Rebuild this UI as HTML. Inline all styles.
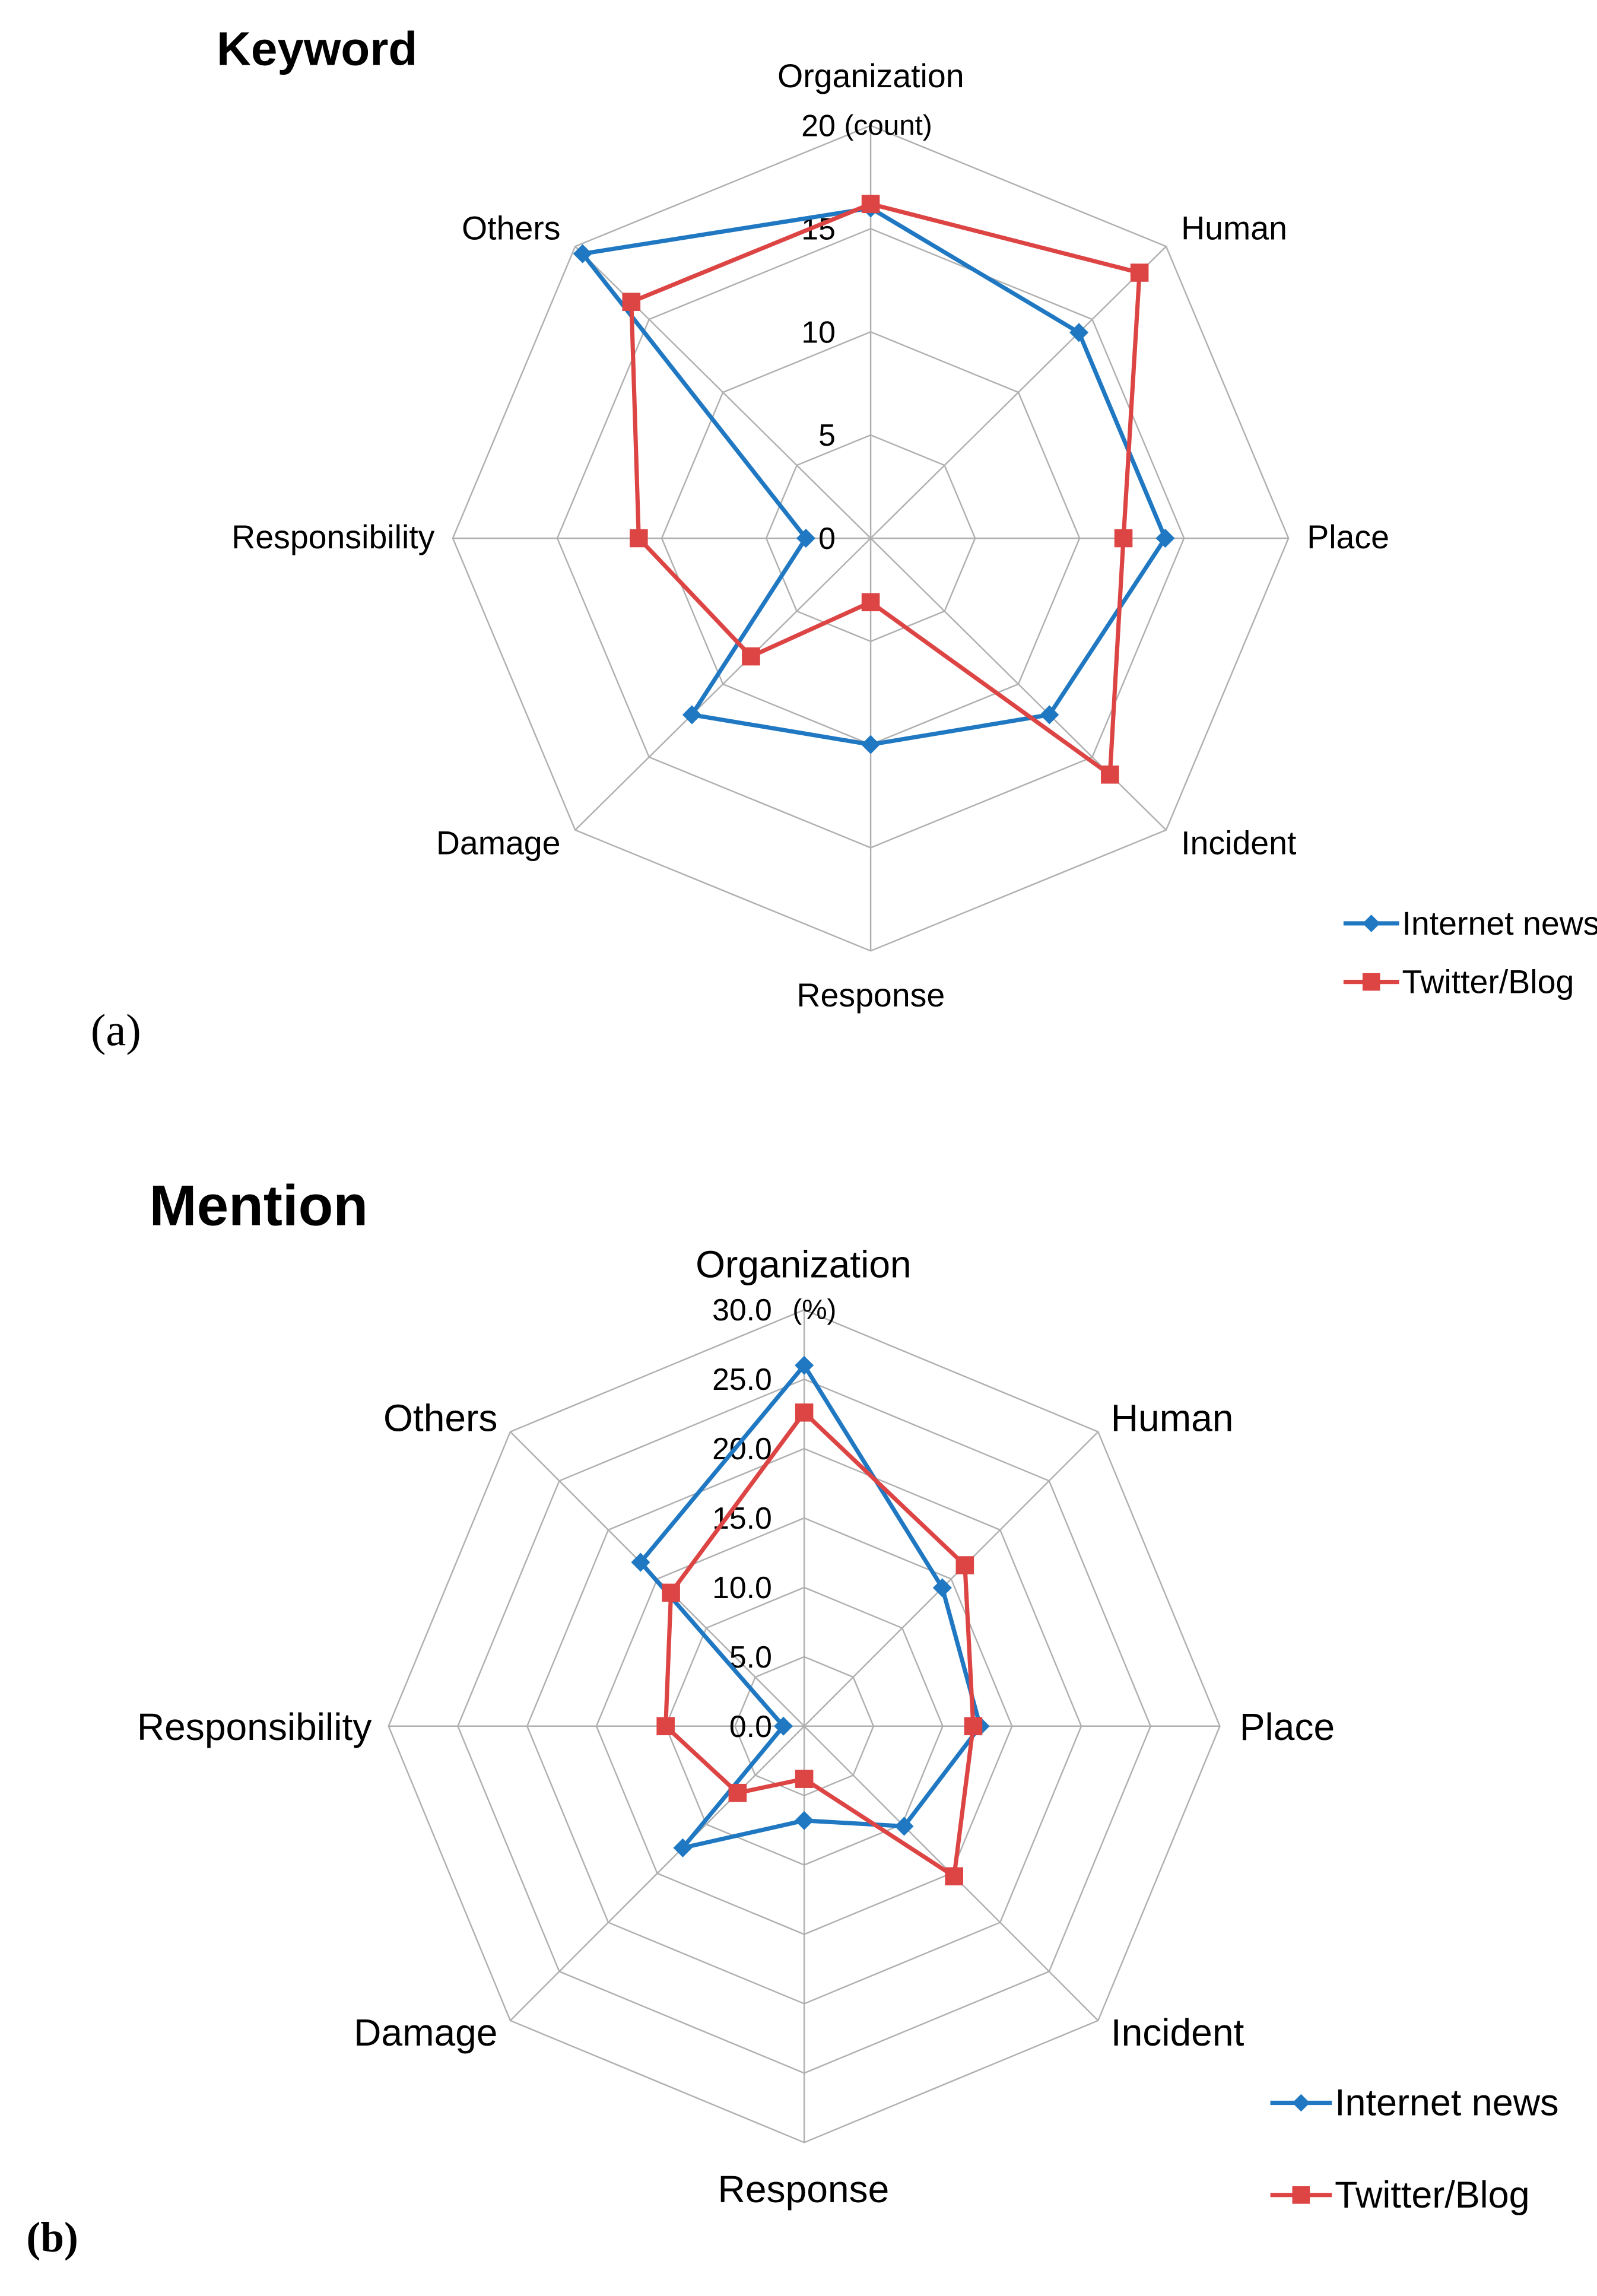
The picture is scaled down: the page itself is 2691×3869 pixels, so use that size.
<!DOCTYPE html>
<html><head><meta charset="utf-8"><style>
html,body{margin:0;padding:0;background:#fff;}
svg{display:block;}
text{font-family:"Liberation Sans","DejaVu Sans",sans-serif;fill:#000;}
</style></head><body>
<svg id="fig" xmlns="http://www.w3.org/2000/svg" width="2691" height="3869" viewBox="0 0 1091.2 1569" preserveAspectRatio="none">
<rect x="0" y="0" width="1091.2" height="1569" fill="#fff"/>
</svg>
<script>
const categories = ["Organization","Human","Place","Incident","Response","Damage","Responsibility","Others"];
const keywordInternet = [16, 14.1, 14.1, 12.1, 10, 12.1, 3.1, 19.5];
const keywordTwitter = [16.2, 18.2, 12.1, 16.2, 3.1, 8.1, 11.1, 16.2];
const keywordTicks = ["0","5","10","15","20"];
const mentionInternet = [26.0, 14.1, 12.7, 10.2, 6.8, 12.4, 1.5, 16.7];
const mentionTwitter = [22.6, 16.4, 12.2, 15.3, 3.8, 6.8, 10.0, 13.6];
const mentionTicks = ["0.0","5.0","10.0","15.0","20.0","25.0","30.0"];

const NS = "http://www.w3.org/2000/svg";
const svg = document.getElementById('fig');
function mk(tag, attrs, parent){
  const e = document.createElementNS(NS, tag);
  for (const k in attrs) e.setAttribute(k, attrs[k]);
  (parent||svg).appendChild(e);
  return e;
}
function txt(s, x, y, size, anchor, parent, weight, family){
  const t = mk('text', {x:x, y:y, 'font-size':size, 'text-anchor':anchor||'start', 'dominant-baseline':'central'}, parent);
  if (weight) t.setAttribute('font-weight', weight);
  if (family) t.setAttribute('style', 'font-family:'+family);
  t.textContent = s;
  return t;
}

function radar(cfg){
  const g = mk('g', {});
  
  
  const max = cfg.max, n = categories.length;
  function pt(i, v){
    const a = -Math.PI/2 + i*2*Math.PI/n;
    return [cfg.cx + Math.cos(a)*v/max*cfg.rx, cfg.cy + Math.sin(a)*v/max*cfg.ry];
  }
  const rings = cfg.ticks.length - 1;
  for (let r=1; r<=rings; r++){
    const v = max*r/rings;
    const pts = categories.map((c,i)=>pt(i,v).join(',')).join(' ');
    const p = mk('polygon', {points:pts, fill:'none', stroke:'#b0b0b0', 'stroke-width':1}, g);
    
    
  }
  categories.forEach((c,i)=>{
    const e = pt(i,max);
    const l = mk('line', {x1:cfg.cx, y1:cfg.cy, x2:e[0], y2:e[1], stroke:'#b0b0b0', 'stroke-width':1}, g);
    
    
  });
  cfg.ticks.forEach((t,r)=>{
    const y = cfg.cy - cfg.ry*r/rings;
    const el = txt(t, cfg.cx - cfg.tickGap, y, cfg.tickSize, 'end', g);
    
    
  });
  const u = txt(cfg.unit, cfg.cx + cfg.unitDx, cfg.cy - cfg.ry, cfg.tickSize*0.92, 'middle', g);
  
  
  categories.forEach((c,i)=>{
    const L = cfg.labels[i];
    const el = txt(c, L[0], L[1], cfg.labelSize, L[2], g);
    
    
  });
  const series = [
    {vals:cfg.s1, color:'#1f78c1', marker:'diamond', name:'internet-news'},
    {vals:cfg.s2, color:'#dd4444', marker:'square', name:'twitter-blog'}
  ];
  series.forEach(s=>{
    const pts = s.vals.map((v,i)=>pt(i,v));
    const pl = mk('polygon', {points:pts.map(p=>p.join(',')).join(' '), fill:'none', stroke:s.color, 'stroke-width':2.9, 'stroke-linejoin':'round'}, g);
    
    
    pts.forEach(p=>{
      let m;
      if (s.marker==='diamond'){
        const d=6.5;
        m = mk('polygon', {points:`${p[0]},${p[1]-d} ${p[0]+d},${p[1]} ${p[0]},${p[1]+d} ${p[0]-d},${p[1]}`, fill:s.color}, g);
      } else {
        const d=6.2;
        m = mk('rect', {x:p[0]-d, y:p[1]-d, width:2*d, height:2*d, fill:s.color}, g);
      }
      
      
    });
  });
  [['Internet news','#1f78c1','diamond',cfg.legY[0]],['Twitter/Blog','#dd4444','square',cfg.legY[1]]].forEach(L=>{
    const lg = mk('g', {}, g);
    
    
    const x0 = cfg.legX, y = L[3];
    mk('line', {x1:x0, y1:y, x2:x0+cfg.legLen, y2:y, stroke:L[1], 'stroke-width':2.9}, lg);
    const mx = x0+cfg.legLen/2;
    if (L[2]==='diamond') mk('polygon', {points:`${mx},${y-6} ${mx+6},${y} ${mx},${y+6} ${mx-6},${y}`, fill:L[1]}, lg);
    else mk('rect', {x:mx-6, y:y-6, width:12, height:12, fill:L[1]}, lg);
    txt(L[0], x0+cfg.legLen+2, y, cfg.legSize, 'start', lg);
  });
}

let t;
t = txt('Keyword', 148, 33, 32.5, 'start', svg, 'bold');
 
t = txt('Mention', 102, 824, 39, 'start', svg, 'bold');
 
t = txt('(a)', 62, 704, 31, 'start', svg, null, '"Liberation Serif",serif');
 
t = txt('(b)', 18, 1529, 29, 'start', svg, 'bold', '"Liberation Serif",serif');
 

radar({name:'keyword-radar-chart', cx:594.9, cy:367.8, rx:285.5, ry:282, max:20,
  ticks:keywordTicks, s1:keywordInternet, s2:keywordTwitter, tickGap:24, tickSize:21, unit:'(count)', unitDx:12,
  labelSize:22.5,
  labels:[[595,52,'middle'],[807,156,'start'],[893,367,'start'],[807,576,'start'],[595,680,'middle'],[383,576,'end'],[297,367,'end'],[383,156,'end']],
  legX:918, legLen:38, legY:[631,671], legSize:22.5});

radar({name:'mention-radar-chart', cx:549.5, cy:1179.6, rx:284, ry:284.5, max:30,
  ticks:mentionTicks, s1:mentionInternet, s2:mentionTwitter, tickGap:22, tickSize:21, unit:'(%)', unitDx:7,
  labelSize:26,
  labels:[[549,864,'middle'],[759,969,'start'],[847,1180,'start'],[759,1389,'start'],[549,1496,'middle'],[340,1389,'end'],[254,1180,'end'],[340,969,'end']],
  legX:868, legLen:42, legY:[1437,1500], legSize:25.5});
</script>
</body></html>
